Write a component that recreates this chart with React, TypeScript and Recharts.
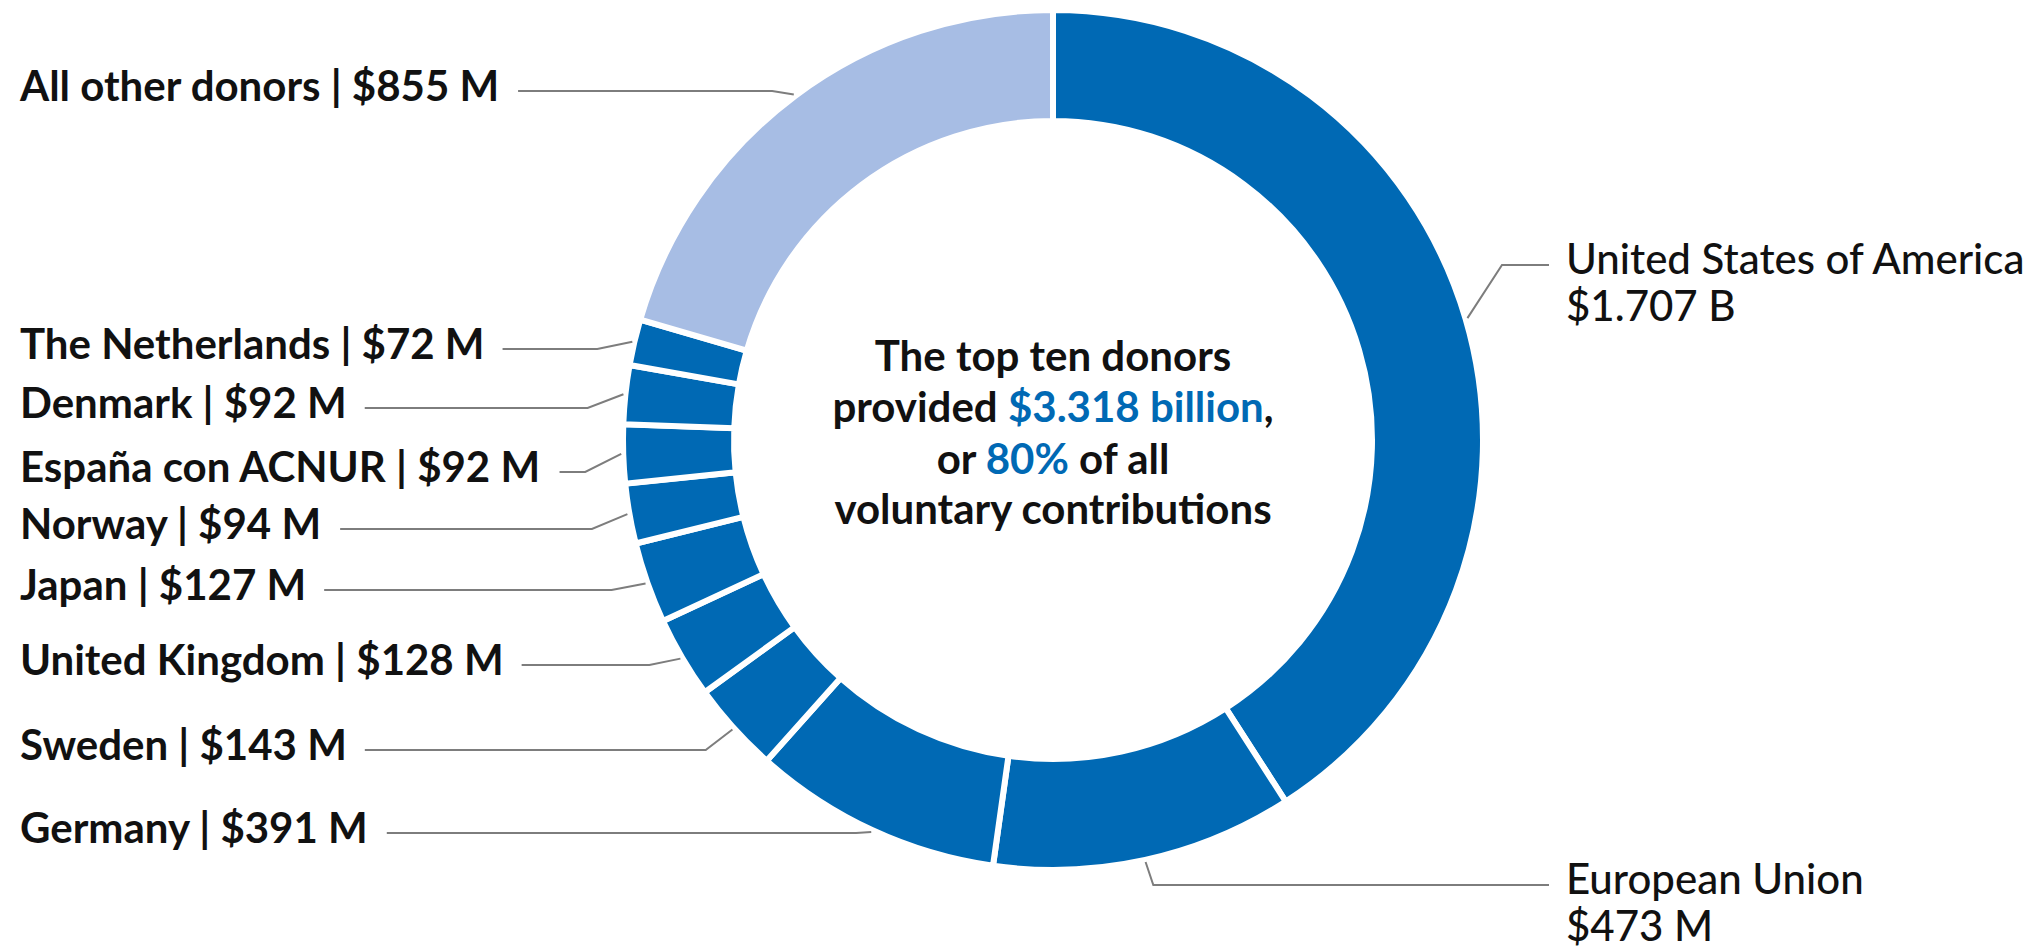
import { PieChart, Pie, Cell, Label } from "recharts";

const donors = [
  "United States of America",
  "European Union",
  "Germany",
  "Sweden",
  "United Kingdom",
  "Japan",
  "Norway",
  "España con ACNUR",
  "Denmark",
  "The Netherlands",
  "All other donors",
];
const amounts = [1707, 473, 391, 143, 128, 127, 94, 92, 92, 72, 855];
const amountText = ["$1.707 B", "$473 M", "$391 M", "$143 M", "$128 M", "$127 M", "$94 M", "$92 M", "$92 M", "$72 M", "$855 M"];
const isOther = [false, false, false, false, false, false, false, false, false, false, true];

const centerLines = [
  [{ t: "The top ten donors", hi: false }],
  [{ t: "provided ", hi: false }, { t: "$3.318 billion", hi: true }, { t: ",", hi: false }],
  [{ t: "or ", hi: false }, { t: "80%", hi: true }, { t: " of all", hi: false }],
  [{ t: "voluntary contributions", hi: false }],
];

// layout: y of each leader line's horizontal run (same order as donors)
const LINE_Y = [265, 885, 833, 750, 665, 590, 529, 472, 408, 349, 91];

const CX = 1053;
const CY = 440;
const DARK = "#0069b4";
const LIGHT = "#a7bde4";
const FONT = "Lato, 'Open Sans', sans-serif";
const RAD = Math.PI / 180;

const chartData = donors.map((name, i) => ({ name, value: amounts[i], amount: amountText[i] }));

let ctx: CanvasRenderingContext2D | null = null;
function textWidth(s: string, font: string) {
  if (!ctx) ctx = document.createElement("canvas").getContext("2d");
  if (!ctx) return s.length * 19;
  ctx.font = font;
  return ctx.measureText(s).width;
}

function renderLabel(props: any) {
  const { cx, cy, midAngle, outerRadius, index } = props;
  const c = Math.cos(-midAngle * RAD);
  const s = Math.sin(-midAngle * RAD);
  const sx = cx + (outerRadius + 2) * c;
  const sy = cy + (outerRadius + 2) * s;
  const ex = cx + (outerRadius + 38) * c;
  const ly = LINE_Y[index];

  if (c > 0) {
    const tx = 1566;
    return (
      <g key={`lbl-${index}`}>
        <polyline points={`${sx},${sy} ${ex},${ly} ${tx - 17},${ly}`} fill="none" stroke="#7d7d7d" strokeWidth={2} />
        <text x={tx} y={ly + 9} fontFamily={FONT} fontSize={42} fontWeight={500} fill="#111">
          {donors[index]}
        </text>
        <text x={tx} y={ly + 56} fontFamily={FONT} fontSize={42} fontWeight={500} fill="#111">
          {amountText[index]}
        </text>
      </g>
    );
  }

  const label = `${donors[index]} | ${amountText[index]}`;
  const w = textWidth(label, `700 42px Lato`);
  const tx = 20;
  return (
    <g key={`lbl-${index}`}>
      <polyline points={`${sx},${sy} ${ex},${ly} ${tx + w + 18},${ly}`} fill="none" stroke="#7d7d7d" strokeWidth={2} />
      <text x={tx} y={ly + 10} fontFamily={FONT} fontSize={42} fontWeight={700} fill="#111">
        {label}
      </text>
    </g>
  );
}

function CenterText() {
  const offs = [-69, -18, 34, 84];
  return (
    <text textAnchor="middle" fontFamily={FONT} fontSize={42} fontWeight={700} fill="#111">
      {centerLines.map((line, i) => (
        <tspan key={i} x={CX} y={CY + offs[i]}>
          {line.map((p, j) => (
            <tspan key={j} fill={p.hi ? DARK : "#111"}>{p.t}</tspan>
          ))}
        </tspan>
      ))}
    </text>
  );
}

export default function App() {
  return (
    <div style={{ position: "absolute", left: 0, top: 0, width: 2041, height: 952, background: "#fff" }}>
      <PieChart width={2041} height={952} margin={{ top: 0, right: 0, bottom: 0, left: 0 }}>
        <Pie
          data={chartData}
          dataKey="value"
          nameKey="name"
          cx={CX}
          cy={CY}
          innerRadius={319}
          outerRadius={430}
          startAngle={90}
          endAngle={-270}
          stroke="#fff"
          strokeWidth={6}
          labelLine={false}
          label={renderLabel}
          isAnimationActive={false}
        >
          {chartData.map((d, i) => (
            <Cell key={d.name} fill={isOther[i] ? LIGHT : DARK} />
          ))}
          <Label position="center" content={() => <CenterText />} />
        </Pie>
      </PieChart>
    </div>
  );
}
